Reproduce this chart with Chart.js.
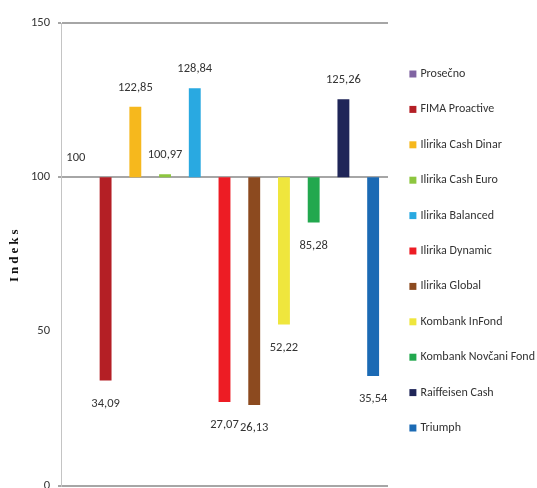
<!DOCTYPE html>
<html>
<head>
<meta charset="utf-8">
<script src="https://cdn.jsdelivr.net/npm/chart.js@4.4.1/dist/chart.umd.min.js"></script>
<style>
  html, body { margin: 0; padding: 0; background: #ffffff; overflow: hidden; }
  #chart { display: block; }
</style>
</head>
<body>
<canvas id="chart" width="537" height="501" style="width:537px;height:501px"></canvas>
<script>
// Fund index values relative to the average (= 100)
const funds = [
  'Prosečno', 'FIMA Proactive', 'Ilirika Cash Dinar', 'Ilirika Cash Euro',
  'Ilirika Balanced', 'Ilirika Dynamic', 'Ilirika Global', 'Kombank InFond',
  'Kombank Novčani Fond', 'Raiffeisen Cash', 'Triumph'
];
const indexValues = [100, 34.09, 122.85, 100.97, 128.84, 27.07, 26.13, 52.22, 85.28, 125.26, 35.54];
const baseline = 100;
const yTicks = [0, 50, 100, 150];
const fundColors = [
  '#8064a2', '#b41f25', '#f6b81d', '#8dc63f', '#29a9e1', '#ed1c24',
  '#8c4a1f', '#efe63d', '#22a84e', '#1f2558', '#1b6ab4'
];
const axisTitle = 'Indeks';

const FONT = 'Carlito, "Liberation Sans", sans-serif';
const TEXT = '#333333';
const GRID = '#a6a6a6';

function formatValue(v) {
  return Number.isInteger(v) ? String(v) : v.toFixed(2).replace('.', ',');
}

// one dataset per fund, each occupying only its own category slot
const datasets = funds.map((name, i) => ({
  label: name,
  data: funds.map((_, j) => (j === i ? [baseline, indexValues[i]] : null)),
  backgroundColor: fundColors[i],
  borderColor: fundColors[i],
  borderWidth: 0,
  pointStyle: 'rect',
  barPercentage: 0.4,
  categoryPercentage: 1,
  skipNull: true
}));

// numbers above rising bars, below falling ones
const valueLabels = {
  id: 'valueLabels',
  afterDatasetsDraw(chart) {
    const ctx = chart.ctx;
    const yScale = chart.scales.y;
    ctx.save();
    ctx.font = '12.5px ' + FONT;
    ctx.fillStyle = TEXT;
    ctx.textAlign = 'center';
    ctx.textBaseline = 'middle';
    indexValues.forEach((v, i) => {
      const bar = chart.getDatasetMeta(i).data[i];
      if (!bar) return;
      const end = yScale.getPixelForValue(v);
      const y = v >= baseline ? end - 19 : end + 23;
      ctx.fillText(formatValue(v), bar.x, y);
    });
    ctx.restore();
  }
};

// rotated, letter-spaced axis title
const yTitle = {
  id: 'yTitle',
  afterDraw(chart) {
    const ctx = chart.ctx;
    const area = chart.chartArea;
    ctx.save();
    ctx.translate(15, (area.top + area.bottom) / 2);
    ctx.rotate(-Math.PI / 2);
    ctx.font = 'bold 13px "Liberation Serif", "DejaVu Serif", serif';
    if ('letterSpacing' in ctx) ctx.letterSpacing = '3px';
    ctx.fillStyle = '#111111';
    ctx.textAlign = 'center';
    ctx.textBaseline = 'middle';
    ctx.fillText(axisTitle, 0, 0);
    ctx.restore();
  }
};

// vertical offset of the legend column
const legendNudge = {
  id: 'legendNudge',
  afterUpdate(chart) {
    const l = chart.legend;
    if (!l) return;
    l.top -= 11; l.bottom -= 11;
  }
};

new Chart(document.getElementById('chart'), {
  type: 'bar',
  data: { labels: funds, datasets },
  options: {
    responsive: false,
    animation: false,
    devicePixelRatio: 1,
    layout: { padding: { top: 23, bottom: 0, left: 0, right: 0 } },
    scales: {
      x: {
        type: 'category',
        display: false,
        offset: true,
        grid: { display: false }
      },
      y: {
        min: 0,
        max: 150,
        afterBuildTicks: s => { s.ticks = yTicks.map(v => ({ value: v })); },
        afterFit: s => { s.width = 61; },
        ticks: { color: TEXT, font: { family: FONT, size: 12.5 }, padding: 8 },
        grid: {
          color: c => (c.tick && c.tick.value === 50 ? 'rgba(0,0,0,0)' : GRID),
          lineWidth: 2,
          tickLength: 3,
          drawTicks: true
        },
        border: { color: '#c4c4c4', width: 1 }
      }
    },
    plugins: {
      legend: {
        position: 'right',
        maxWidth: 149,
        labels: {
          usePointStyle: true,
          boxWidth: 3,
          boxHeight: 7,
          padding: 23.4,
          color: TEXT,
          font: { family: FONT, size: 12 }
        }
      },
      tooltip: { enabled: false }
    }
  },
  plugins: [valueLabels, yTitle, legendNudge]
});
</script>
</body>
</html>
